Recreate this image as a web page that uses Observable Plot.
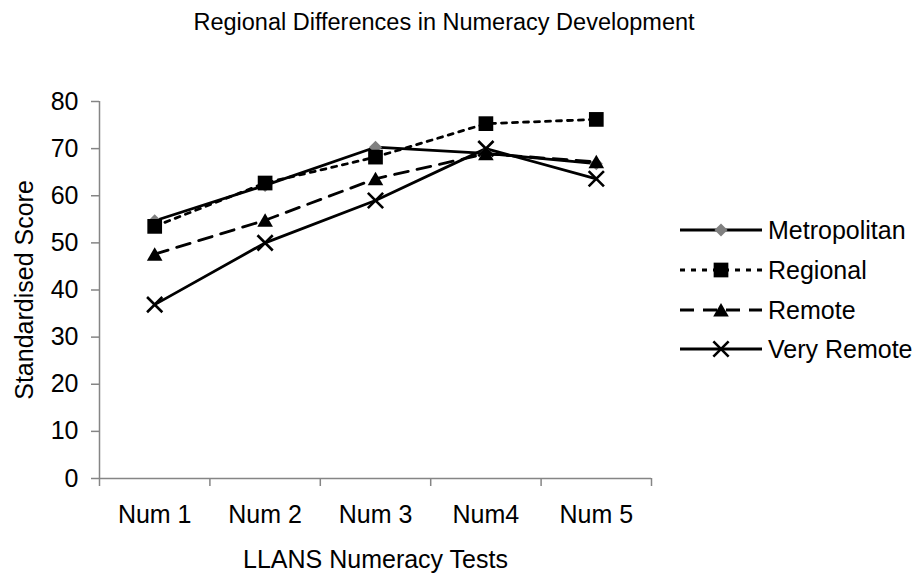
<!DOCTYPE html>
<html>
<head>
<meta charset="utf-8">
<script src="https://cdn.jsdelivr.net/npm/d3@7"></script>
<script src="https://cdn.jsdelivr.net/npm/@observablehq/plot@0.6"></script>
<style>
  html, body { margin: 0; padding: 0; background: #fff; }
  #wrap { position: relative; width: 924px; height: 574px; font-family: "Liberation Sans", Arial, sans-serif; }
  #legend { position: absolute; left: 0; top: 0; pointer-events: none; }
</style>
</head>
<body>
<div id="wrap"></div>
<script>
// ---- data ----
const categories = ["Num 1", "Num 2", "Num 3", "Num4", "Num 5"];
const seriesNames = ["Metropolitan", "Regional", "Remote", "Very Remote"];
const metropolitan = [54.7, 62.2, 70.3, 69.0, 66.8];
const regional = [53.5, 62.7, 68.2, 75.3, 76.2];
const remote = [47.6, 54.8, 63.6, 68.9, 67.2];
const veryRemote = [36.9, 50.0, 59.0, 70.0, 63.6];
const yTicks = [0, 10, 20, 30, 40, 50, 60, 70, 80];
const titleText = "Regional Differences in Numeracy Development";
const xLabelText = "LLANS Numeracy Tests";
const yLabelText = "Standardised Score";

// ---- styles per series ----
const seriesValues = [metropolitan, regional, remote, veryRemote];
const styles = [
  {dash: null, symbol: "diamond2", r: 5.9, fill: "#808080", stroke: "none", dy: 0},
  {dash: "5,6", symbol: "square", r: 8.3, fill: "#000", stroke: "none", dy: 0},
  {dash: "14,9", symbol: "triangle", r: 5.8, fill: "#000", stroke: "none", dy: 2},
  {dash: null, symbol: "times", r: 7, fill: "none", stroke: "#000", dy: 0}
];

const rowsFor = (k) => categories.map((c, i) => ({cat: c, idx: i, series: seriesNames[k], value: seriesValues[k][i]}));
const pos = (d) => d.idx + 0.5;

const axisGray = "#858585";
const font = "Liberation Sans, Arial, sans-serif";

const marks = [
  Plot.ruleX([0], {stroke: axisGray, strokeWidth: 1.5}),
  Plot.ruleY([0], {stroke: axisGray, strokeWidth: 1.5}),
  Plot.axisY({ticks: yTicks, tickSize: 8, tickPadding: 13, fontSize: 25, stroke: axisGray, fill: "#000", label: null, strokeWidth: 1.5}),
  Plot.axisX({ticks: d3.range(categories.length + 1), tickFormat: () => "", tickSize: 8, stroke: axisGray, label: null, strokeWidth: 1.5}),
  Plot.axisX({ticks: categories.map((c, i) => i + 0.5), tickFormat: (d) => categories[Math.round(d - 0.5)], tickSize: 0, tickPadding: 27, fontSize: 25, fill: "#000", label: null}),
  Plot.text([xLabelText], {frameAnchor: "bottom", dy: 81, lineAnchor: "middle", textAnchor: "middle", fontSize: 25, fill: "#000"}),
  Plot.text([yLabelText], {frameAnchor: "left", dx: -75, rotate: -90, lineAnchor: "middle", textAnchor: "middle", fontSize: 25, fill: "#000"}),
  Plot.text([titleText], {frameAnchor: "top", dx: 68.5, dy: -79, lineAnchor: "middle", textAnchor: "middle", fontSize: 23.5, fill: "#000"})
];

seriesNames.forEach((s, k) => {
  const st = styles[k];
  marks.push(Plot.line(rowsFor(k), {x: pos, y: "value", stroke: "#000", strokeWidth: 2.8, strokeDasharray: st.dash || undefined}));
});
seriesNames.forEach((s, k) => {
  const st = styles[k];
  marks.push(Plot.dot(rowsFor(k), {x: pos, y: "value", symbol: st.symbol, r: st.r, fill: st.fill, stroke: st.stroke, strokeWidth: 2.6, dy: st.dy}));
});

const chart = Plot.plot({
  width: 924,
  height: 574,
  marginLeft: 99,
  marginRight: 273,
  marginTop: 101,
  marginBottom: 96,
  x: {domain: [0, categories.length]},
  y: {domain: [0, 80]},
  style: {fontFamily: font, fontSize: "25px", background: "#fff", color: "#000"},
  marks
});
document.getElementById("wrap").appendChild(chart);

// ---- legend ----
const legendRows = [230, 270, 310, 349];
const svg = d3.select("#wrap").append("svg")
  .attr("id", "legend").attr("width", 924).attr("height", 574);
const symMap = {diamond2: d3.symbolDiamond2, square: d3.symbolSquare, triangle: d3.symbolTriangle, times: d3.symbolTimes};
seriesNames.forEach((name, k) => {
  const st = styles[k];
  const g = svg.append("g").attr("transform", `translate(0,${legendRows[k]})`);
  g.append("line").attr("x1", 680).attr("x2", 762).attr("y1", 0).attr("y2", 0)
    .attr("stroke", "#000").attr("stroke-width", 2.8)
    .attr("stroke-dasharray", st.dash || null);
  g.append("path")
    .attr("transform", `translate(721,${st.dy})`)
    .attr("d", d3.symbol(symMap[st.symbol], Math.PI * st.r * st.r)())
    .attr("fill", st.fill).attr("stroke", st.stroke).attr("stroke-width", 2.6);
  g.append("text").attr("x", 768).attr("y", 0).attr("dy", "0.36em")
    .attr("font-family", font).attr("font-size", 25).attr("fill", "#000")
    .text(name);
});
</script>
</body>
</html>
